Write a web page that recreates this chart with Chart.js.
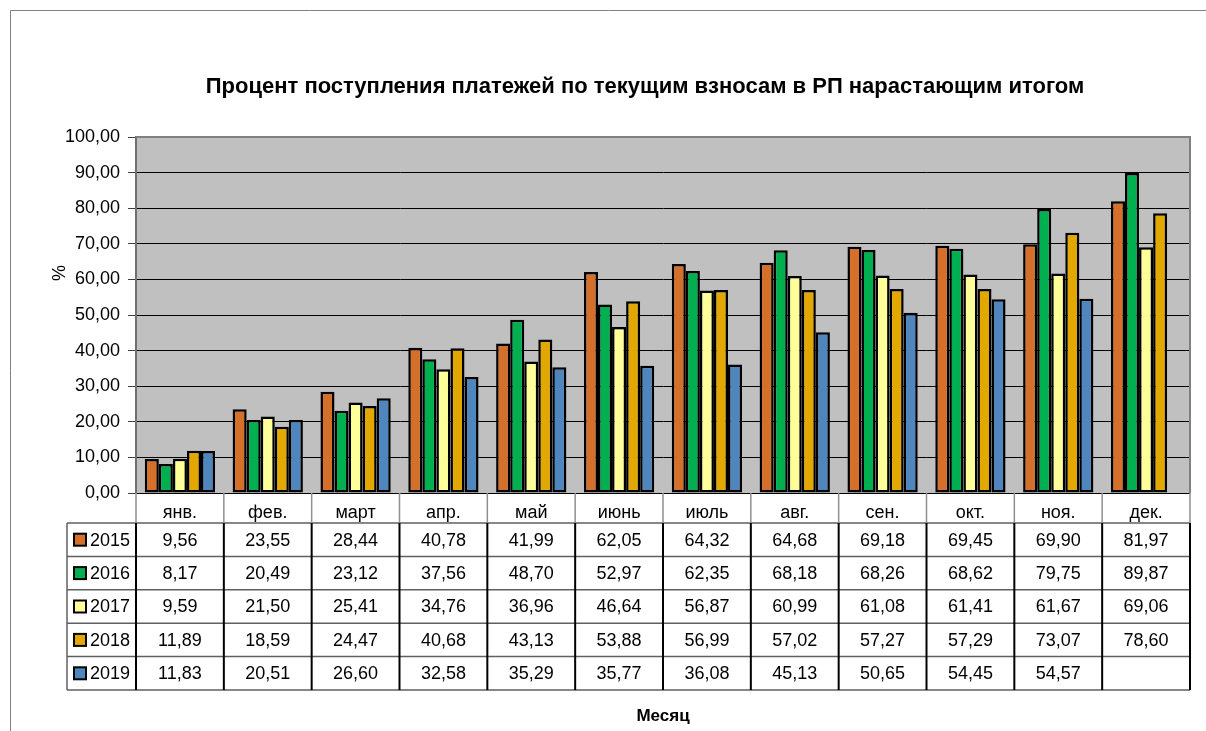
<!DOCTYPE html>
<html>
<head>
<meta charset="utf-8">
<script src="https://cdn.jsdelivr.net/npm/chart.js@4"></script>
<style>
  html, body { margin: 0; padding: 0; background: #fff; }
  #wrap { width: 1206px; height: 731px; position: relative; }
</style>
</head>
<body>
<div id="wrap"><canvas id="c"></canvas></div>
<script>
const months = ['янв.', 'фев.', 'март', 'апр.', 'май', 'июнь', 'июль', 'авг.', 'сен.', 'окт.', 'ноя.', 'дек.'];
const years = ['2015', '2016', '2017', '2018', '2019'];
const v2015 = [9.56, 23.55, 28.44, 40.78, 41.99, 62.05, 64.32, 64.68, 69.18, 69.45, 69.90, 81.97];
const v2016 = [8.17, 20.49, 23.12, 37.56, 48.70, 52.97, 62.35, 68.18, 68.26, 68.62, 79.75, 89.87];
const v2017 = [9.59, 21.50, 25.41, 34.76, 36.96, 46.64, 56.87, 60.99, 61.08, 61.41, 61.67, 69.06];
const v2018 = [11.89, 18.59, 24.47, 40.68, 43.13, 53.88, 56.99, 57.02, 57.27, 57.29, 73.07, 78.60];
const v2019 = [11.83, 20.51, 26.60, 32.58, 35.29, 35.77, 36.08, 45.13, 50.65, 54.45, 54.57, null];
const colors = ['#D4702A', '#00B050', '#FFFF99', '#E2A800', '#4F86BE'];
const titleText = 'Процент поступления платежей по текущим взносам в РП нарастающим итогом';
const yTitle = '%';

const FONT = '"Liberation Sans Narrow", "Arial Narrow", "Liberation Sans", Arial, sans-serif';
const fmt = v => v.toFixed(2).replace('.', ',');

// background, outer frame, titles, plot frame
const framePlugin = {
  id: 'frame',
  beforeDraw(chart) {
    const ctx = chart.ctx, a = chart.chartArea;
    ctx.save();
    ctx.fillStyle = '#fff';
    ctx.fillRect(0, 0, chart.width, chart.height);
    ctx.strokeStyle = '#808080';
    ctx.lineWidth = 1;
    ctx.beginPath();
    ctx.moveTo(10.5, chart.height);
    ctx.lineTo(10.5, 10.5);
    ctx.lineTo(chart.width, 10.5);
    ctx.stroke();
    ctx.fillStyle = '#C0C0C0';
    ctx.fillRect(a.left, a.top, a.right - a.left, a.bottom - a.top);
    ctx.fillStyle = '#000';
    ctx.font = 'bold 22px ' + FONT;
    ctx.textAlign = 'center';
    ctx.textBaseline = 'middle';
    ctx.fillText(titleText, 645, 87);
    // y axis title, rotated
    ctx.translate(60, 273);
    ctx.rotate(-Math.PI / 2);
    ctx.font = '18px ' + FONT;
    ctx.fillText(yTitle, 0, 0);
    ctx.restore();
  },
  beforeDatasetsDraw(chart) {
    const ctx = chart.ctx, a = chart.chartArea;
    ctx.save();
    ctx.strokeStyle = '#808080';
    ctx.lineWidth = 2;
    ctx.beginPath();
    ctx.moveTo(a.left, a.top);
    ctx.lineTo(a.right, a.top);
    ctx.lineTo(a.right, a.bottom);
    ctx.stroke();
    ctx.restore();
  }
};

// data table under the plot
const tablePlugin = {
  id: 'dataTable',
  afterDraw(chart) {
    const ctx = chart.ctx, x = chart.scales.x, a = chart.chartArea;
    const colW = (a.right - a.left) / months.length;
    const headBottom = 523, rowH = 33.4, legLeft = 67;
    const nRows = chart.data.datasets.length;
    const tableBottom = headBottom + rowH * nRows;
    ctx.save();
    ctx.strokeStyle = '#606060';
    ctx.lineWidth = 1.5;
    ctx.beginPath();
    for (let r = 0; r <= nRows; r++) {
      const y = headBottom + r * rowH;
      ctx.moveTo(legLeft, y);
      ctx.lineTo(a.right, y);
    }
    ctx.stroke();
    ctx.strokeStyle = '#909090';
    ctx.beginPath();
    for (let i = 0; i <= months.length; i++) {
      const xx = a.left + i * colW;
      ctx.moveTo(xx, a.bottom);
      ctx.lineTo(xx, headBottom);
    }
    ctx.stroke();
    ctx.strokeStyle = '#000';
    ctx.lineWidth = 2;
    ctx.beginPath();
    for (let i = 0; i <= months.length; i++) {
      const xx = a.left + i * colW;
      ctx.moveTo(xx, headBottom);
      ctx.lineTo(xx, tableBottom);
    }
    ctx.stroke();
    ctx.strokeStyle = '#606060';
    ctx.lineWidth = 1.5;
    ctx.beginPath();
    ctx.moveTo(legLeft, headBottom);
    ctx.lineTo(legLeft, tableBottom);
    ctx.stroke();
    ctx.font = '18px ' + FONT;
    ctx.textBaseline = 'middle';
    chart.data.datasets.forEach((ds, r) => {
      const yc = headBottom + r * rowH + rowH / 2;
      ctx.fillStyle = ds.backgroundColor;
      ctx.fillRect(74, yc - 6, 12, 12);
      ctx.strokeStyle = '#000';
      ctx.lineWidth = 2;
      ctx.strokeRect(74, yc - 6, 12, 12);
      ctx.fillStyle = '#000';
      ctx.textAlign = 'left';
      ctx.fillText(ds.label, 90, yc + 1);
      ctx.textAlign = 'center';
      ds.data.forEach((v, i) => {
        if (v === null) return;
        ctx.fillText(fmt(v), x.getPixelForValue(i), yc + 1);
      });
    });
    ctx.restore();
  }
};

const series = [v2015, v2016, v2017, v2018, v2019];

new Chart(document.getElementById('c'), {
  type: 'bar',
  data: {
    labels: months,
    datasets: years.map((y, i) => ({
      label: y,
      data: series[i],
      backgroundColor: colors[i],
      borderColor: '#000',
      borderWidth: 2.5,
      borderSkipped: false,
      categoryPercentage: 0.8,
      barPercentage: 1.0
    }))
  },
  options: {
    responsive: true,
    maintainAspectRatio: false,
    animation: false,
    layout: { padding: { left: 0, right: 16, top: 137, bottom: 0 } },
    plugins: {
      legend: { display: false },
      tooltip: { enabled: false },
      title: { display: false }
    },
    scales: {
      x: {
        grid: { display: false },
        border: { display: false },
        ticks: { color: '#000', font: { family: FONT, size: 18 }, padding: 1, maxRotation: 0 },
        title: {
          display: true,
          text: 'Месяц',
          color: '#000',
          font: { family: FONT, size: 17, weight: 'bold' },
          padding: { top: 5 }
        },
        afterFit(scale) { scale.height = 238; }
      },
      y: {
        min: 0,
        max: 100,
        ticks: {
          stepSize: 10,
          color: '#000',
          font: { family: FONT, size: 18 },
          padding: 8,
          callback: v => fmt(v)
        },
        grid: {
          color: '#000',
          lineWidth: 1,
          tickLength: 8,
          tickColor: '#404040'
        },
        border: { color: '#707070', width: 2 },
        title: { display: false },
        afterFit(scale) { scale.width = 136; }
      }
    }
  },
  plugins: [framePlugin, tablePlugin]
});
</script>
</body>
</html>
